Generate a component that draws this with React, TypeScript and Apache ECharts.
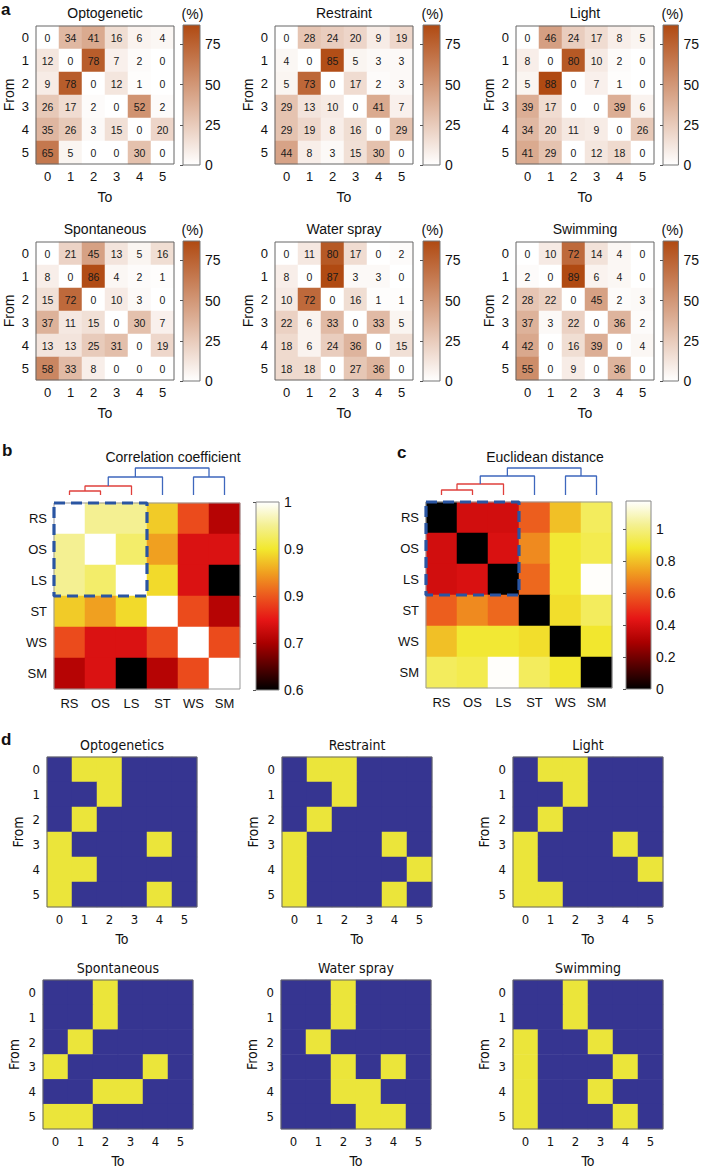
import React, { useEffect, useRef } from "react";
import * as echarts from "echarts";

// ---------------- data ----------------
const steps = ["0", "1", "2", "3", "4", "5"];
const behaviourTitles = ["Optogenetic", "Restraint", "Light", "Spontaneous", "Water spray", "Swimming"];
const binaryTitles = ["Optogenetics", "Restraint", "Light", "Spontaneous", "Water spray", "Swimming"];
const codes = ["RS", "OS", "LS", "ST", "WS", "SM"];

const optogenetic = [
  [0, 34, 41, 16, 6, 4],
  [12, 0, 78, 7, 2, 0],
  [9, 78, 0, 12, 1, 0],
  [26, 17, 2, 0, 52, 2],
  [35, 26, 3, 15, 0, 20],
  [65, 5, 0, 0, 30, 0],
];
const restraint = [
  [0, 28, 24, 20, 9, 19],
  [4, 0, 85, 5, 3, 3],
  [5, 73, 0, 17, 2, 3],
  [29, 13, 10, 0, 41, 7],
  [29, 19, 8, 16, 0, 29],
  [44, 8, 3, 15, 30, 0],
];
const light = [
  [0, 46, 24, 17, 8, 5],
  [8, 0, 80, 10, 2, 0],
  [5, 88, 0, 7, 1, 0],
  [39, 17, 0, 0, 39, 6],
  [34, 20, 11, 9, 0, 26],
  [41, 29, 0, 12, 18, 0],
];
const spontaneous = [
  [0, 21, 45, 13, 5, 16],
  [8, 0, 86, 4, 2, 1],
  [15, 72, 0, 10, 3, 0],
  [37, 11, 15, 0, 30, 7],
  [13, 13, 25, 31, 0, 19],
  [58, 33, 8, 0, 0, 0],
];
const waterSpray = [
  [0, 11, 80, 17, 0, 2],
  [8, 0, 87, 3, 3, 0],
  [10, 72, 0, 16, 1, 1],
  [22, 6, 33, 0, 33, 5],
  [18, 6, 24, 36, 0, 15],
  [18, 18, 0, 27, 36, 0],
];
const swimming = [
  [0, 10, 72, 14, 4, 0],
  [2, 0, 89, 6, 4, 0],
  [28, 22, 0, 45, 2, 3],
  [37, 3, 22, 0, 36, 2],
  [42, 0, 16, 39, 0, 4],
  [55, 0, 9, 0, 36, 0],
];

const correlation = [
  [1, 0.95, 0.95, 0.88, 0.79, 0.71],
  [0.95, 1, 0.93, 0.85, 0.74, 0.74],
  [0.95, 0.93, 1, 0.89, 0.74, 0.6],
  [0.88, 0.85, 0.89, 1, 0.79, 0.71],
  [0.79, 0.74, 0.74, 0.79, 1, 0.79],
  [0.71, 0.74, 0.6, 0.71, 0.79, 1],
];
const euclidean = [
  [0, 0.39, 0.39, 0.6, 0.8, 0.95],
  [0.39, 0, 0.41, 0.69, 0.89, 0.93],
  [0.39, 0.41, 0, 0.62, 0.89, 1.17],
  [0.6, 0.69, 0.62, 0, 0.86, 0.95],
  [0.8, 0.89, 0.89, 0.86, 0, 0.88],
  [0.95, 0.93, 1.17, 0.95, 0.88, 0],
];
// dendrogram merges: [nodeA, nodeB, height]; leaves 0..5, new nodes 6..
const linkageCorr = [[0, 1, 4], [6, 2, 9], [7, 3, 18], [4, 5, 18], [8, 9, 27]];
const linkageDist = [[0, 1, 5], [6, 2, 11], [7, 3, 19], [4, 5, 19], [8, 9, 27]];
const linkColors = ["#e0403c", "#e0403c", "#3e67bd", "#3e67bd", "#3e67bd"];
const clusterSize = 3;

const corrTickLabels = ["0.6", "0.7", "0.9", "0.9", "1"];

const binOpto = [
  [0, 1, 1, 0, 0, 0],
  [0, 0, 1, 0, 0, 0],
  [0, 1, 0, 0, 0, 0],
  [1, 0, 0, 0, 1, 0],
  [1, 1, 0, 0, 0, 0],
  [1, 0, 0, 0, 1, 0],
];
const binRestraint = [
  [0, 1, 1, 0, 0, 0],
  [0, 0, 1, 0, 0, 0],
  [0, 1, 0, 0, 0, 0],
  [1, 0, 0, 0, 1, 0],
  [1, 0, 0, 0, 0, 1],
  [1, 0, 0, 0, 1, 0],
];
const binLight = [
  [0, 1, 1, 0, 0, 0],
  [0, 0, 1, 0, 0, 0],
  [0, 1, 0, 0, 0, 0],
  [1, 0, 0, 0, 1, 0],
  [1, 0, 0, 0, 0, 1],
  [1, 1, 0, 0, 0, 0],
];
const binSpont = [
  [0, 0, 1, 0, 0, 0],
  [0, 0, 1, 0, 0, 0],
  [0, 1, 0, 0, 0, 0],
  [1, 0, 0, 0, 1, 0],
  [0, 0, 1, 1, 0, 0],
  [1, 1, 0, 0, 0, 0],
];
const binWater = [
  [0, 0, 1, 0, 0, 0],
  [0, 0, 1, 0, 0, 0],
  [0, 1, 0, 0, 0, 0],
  [0, 0, 1, 0, 1, 0],
  [0, 0, 1, 1, 0, 0],
  [0, 0, 0, 1, 1, 0],
];
const binSwim = [
  [0, 0, 1, 0, 0, 0],
  [0, 0, 1, 0, 0, 0],
  [1, 0, 0, 1, 0, 0],
  [1, 0, 0, 0, 1, 0],
  [1, 0, 0, 1, 0, 0],
  [1, 0, 0, 0, 1, 0],
];

// ---------------- styling / layout ----------------
const W = 702;
const H = 1169;
const FONT = "'Liberation Sans', Arial, Helvetica, sans-serif";
const NARROW = "'Liberation Sans Narrow', 'DejaVu Sans Condensed', 'Liberation Sans', sans-serif";
const TXT = "#111";
const PCT_MAX = 87;
const DIST_MAX = 1.175;
const ORANGE_TOP = "#b04a12";
const HOT = ["#000000", "#550000", "#aa0000", "#e61616", "#ec581e", "#f0a020", "#f2e82e", "#f4f092", "#ffffff"];
const BLUE = "#363591";
const YELLOW = "#ebe53a";

const A_LEFT = [36, 275, 516];
const A_CB_LEFT = [183, 423, 663];
const A_TOP = [26, 242];
const A_SIZE = 138;
const A_CB_W = 17;

const B = { left: 54, top: 503, size: 186, cbLeft: 256, cbW: 23 };
const C = { left: 426, top: 502, size: 186, cbLeft: 626, cbW: 25 };
const DENDRO_TOP = 468;
const DENDRO_H = 27;

const D_LEFT = [[47, 282, 513], [43, 281, 513]];
const D_TOP = [757, 980];
const D_W = 150;
const D_H = 150;

function toCells(m: number[][]) {
  const out: number[][] = [];
  m.forEach((row, r) => row.forEach((v, c) => out.push([c, r, v])));
  return out;
}

function txt(text: string, x: number, y: number, font: string, align = "center") {
  return {
    type: "text",
    x,
    y,
    silent: true,
    style: {
      text,
      font,
      fill: TXT,
      textAlign: align,
      textVerticalAlign: "middle",
      align,
      verticalAlign: "middle",
    },
  };
}

function buildOption() {
  const grids: any[] = [];
  const xAxes: any[] = [];
  const yAxes: any[] = [];
  const series: any[] = [];
  const graphics: any[] = [];

  const addGrid = (g: any, xa: any, ya: any) => {
    const i = grids.length;
    grids.push(g);
    xAxes.push({ ...xa, gridIndex: i });
    yAxes.push({ ...ya, gridIndex: i });
    return i;
  };

  const catAxis = (data: string[], extra: any, fontFamily: string, fontSize: number) => ({
    type: "category",
    data,
    axisLine: { show: false },
    axisTick: { show: true, inside: true, alignWithLabel: true, length: 3, lineStyle: { color: "#555" } },
    axisLabel: { fontSize, color: TXT, fontFamily },
    splitLine: { show: false },
    splitArea: { show: false },
    nameTextStyle: { fontSize: 14, color: TXT, fontFamily },
    ...extra,
  });

  const hiddenVal = (min: number, max: number, inverse = false) => ({
    type: "value",
    show: false,
    min,
    max,
    inverse,
    splitLine: { show: false },
  });

  const cbAxis = (min: number, max: number, interval: number, formatter: any, showMax: boolean) => ({
    type: "value",
    position: "right",
    min,
    max,
    interval,
    axisLine: { show: false },
    axisTick: { show: true, inside: true, length: 3, lineStyle: { color: "#555" } },
    axisLabel: { fontSize: 14, color: TXT, margin: 5, showMaxLabel: showMax, formatter, fontFamily: FONT },
    splitLine: { show: false },
  });

  // ----- panel a -----
  const aMatrices = [optogenetic, restraint, light, spontaneous, waterSpray, swimming];
  const aIdx: number[] = [];
  const aGrad = new echarts.graphic.LinearGradient(0, 0, 0, 1, [
    { offset: 0, color: ORANGE_TOP },
    { offset: 1, color: "#ffffff" },
  ]);
  aMatrices.forEach((m, k) => {
    const col = k % 3;
    const row = Math.floor(k / 3);
    const left = A_LEFT[col];
    const top = A_TOP[row];
    const gi = addGrid(
      { left, top, width: A_SIZE, height: A_SIZE, show: true, borderColor: "#666", borderWidth: 1, backgroundColor: "transparent", z: 10 },
      catAxis(steps, { name: "To", nameLocation: "middle", nameGap: 26, axisLabel: { fontSize: 13, color: TXT, margin: 6, fontFamily: FONT } }, FONT, 13),
      catAxis(steps, { inverse: true, name: "From", nameLocation: "middle", nameRotate: 90, nameGap: 20, axisLabel: { fontSize: 13, color: TXT, margin: 7, fontFamily: FONT } }, FONT, 13)
    );
    aIdx.push(series.length);
    series.push({
      type: "heatmap",
      xAxisIndex: gi,
      yAxisIndex: gi,
      data: toCells(m),
      label: { show: true, fontSize: 10.5, color: "#1a1a1a", fontFamily: FONT, formatter: (p: any) => String(p.value[2]) },
      emphasis: { disabled: true },
      silent: true,
    });
    addGrid(
      { left: A_CB_LEFT[col], top: top - 1, width: A_CB_W, height: A_SIZE + 2, show: true, borderColor: "#777", borderWidth: 1, backgroundColor: aGrad },
      hiddenVal(0, 1),
      cbAxis(0, PCT_MAX, 25, (v: number) => String(v), false)
    );
    graphics.push(txt(behaviourTitles[k], left + A_SIZE / 2, top - 13, `14px ${FONT}`));
    graphics.push(txt("(%)", A_CB_LEFT[col] + A_CB_W / 2 + 1, top - 12, `14px ${FONT}`));
  });

  // ----- panels b, c -----
  const hotGrad = new echarts.graphic.LinearGradient(
    0,
    0,
    0,
    1,
    HOT.slice().reverse().map((c, i) => ({ offset: i / (HOT.length - 1), color: c }))
  );
  const bcIdx: number[] = [];
  const panels = [
    { P: B, m: correlation, link: linkageCorr, min: 0.6, max: 1, interval: 0.1, showMax: true, fmt: (v: number) => corrTickLabels[Math.round((v - 0.6) / 0.1)] ?? "", title: "Correlation coefficient" },
    { P: C, m: euclidean, link: linkageDist, min: 0, max: DIST_MAX, interval: 0.2, showMax: false, fmt: (v: number) => String(Number(v.toFixed(1))), title: "Euclidean distance" },
  ];
  panels.forEach(({ P, m, link, min, max, interval, fmt, title, showMax }) => {
    const gi = addGrid(
      { left: P.left, top: P.top, width: P.size, height: P.size, show: true, borderColor: "#999", borderWidth: 1, backgroundColor: "transparent", z: 10 },
      catAxis(codes, { axisLabel: { fontSize: 13, color: TXT, margin: 8, fontFamily: FONT } }, FONT, 13),
      catAxis(codes, { inverse: true, axisLabel: { fontSize: 13, color: TXT, margin: 7, fontFamily: FONT } }, FONT, 13)
    );
    bcIdx.push(series.length);
    series.push({ type: "heatmap", xAxisIndex: gi, yAxisIndex: gi, data: toCells(m), emphasis: { disabled: true }, silent: true });

    // colorbar
    addGrid(
      { left: P.cbLeft, top: P.top - 1, width: P.cbW, height: P.size + 2, show: true, borderColor: "#888", borderWidth: 1, backgroundColor: hotGrad },
      hiddenVal(0, 1),
      cbAxis(min, max, interval, fmt, showMax)
    );

    // dendrogram
    const dg = addGrid(
      { left: P.left, top: DENDRO_TOP, width: P.size, height: DENDRO_H, show: false },
      hiddenVal(0, codes.length),
      hiddenVal(0, DENDRO_H)
    );
    const xs = codes.map((_, i) => i + 0.5);
    const ys = codes.map(() => 0);
    link.forEach(([a, b, h], k) => {
      series.push({
        type: "line",
        xAxisIndex: dg,
        yAxisIndex: dg,
        data: [[xs[a], ys[a]], [xs[a], h], [xs[b], h], [xs[b], ys[b]]],
        symbol: "none",
        clip: false,
        silent: true,
        lineStyle: { color: linkColors[k], width: 1.3 },
      });
      xs.push((xs[a] + xs[b]) / 2);
      ys.push(h);
    });

    // dashed cluster box overlay
    const og = addGrid(
      { left: P.left, top: P.top, width: P.size, height: P.size, show: false },
      hiddenVal(0, codes.length),
      hiddenVal(0, codes.length, true)
    );
    series.push({
      type: "line",
      xAxisIndex: og,
      yAxisIndex: og,
      data: [[0, 0], [clusterSize, 0], [clusterSize, clusterSize], [0, clusterSize], [0, 0]],
      symbol: "none",
      clip: false,
      silent: true,
      z: 20,
      lineStyle: { color: "#2a55a2", width: 3.2, type: [11, 6] },
    });

    graphics.push(txt(title, P.left + 119, 457, `14px ${FONT}`));
  });

  // ----- panel d -----
  const dMatrices = [binOpto, binRestraint, binLight, binSpont, binWater, binSwim];
  const dIdx: number[] = [];
  dMatrices.forEach((m, k) => {
    const col = k % 3;
    const row = Math.floor(k / 3);
    const left = D_LEFT[row][col];
    const top = D_TOP[row];
    const gi = addGrid(
      { left, top, width: D_W, height: D_H, show: true, borderColor: "#666", borderWidth: 1, backgroundColor: "transparent", z: 10 },
      catAxis(steps, { name: "To", nameLocation: "middle", nameGap: 25, axisLabel: { fontSize: 13, color: TXT, margin: 6, fontFamily: NARROW } }, NARROW, 13),
      catAxis(steps, { inverse: true, name: "From", nameLocation: "middle", nameRotate: 90, nameGap: 22, axisLabel: { fontSize: 13, color: TXT, margin: 7, fontFamily: NARROW } }, NARROW, 13)
    );
    dIdx.push(series.length);
    series.push({ type: "heatmap", xAxisIndex: gi, yAxisIndex: gi, data: toCells(m), emphasis: { disabled: true }, silent: true });
    graphics.push(txt(binaryTitles[k], left + D_W / 2, top - 12, `14px ${NARROW}`));
  });

  // panel letters
  graphics.push(txt("a", 1, 9, `bold 17px ${FONT}`, "left"));
  graphics.push(txt("b", 2, 450, `bold 17px ${FONT}`, "left"));
  graphics.push(txt("c", 397, 452, `bold 17px ${FONT}`, "left"));
  graphics.push(txt("d", 1, 739, `bold 17px ${FONT}`, "left"));

  return {
    animation: false,
    backgroundColor: "#ffffff",
    textStyle: { fontFamily: FONT },
    grid: grids,
    xAxis: xAxes,
    yAxis: yAxes,
    series,
    visualMap: [
      { type: "continuous", show: false, seriesIndex: aIdx, dimension: 2, min: 0, max: PCT_MAX, inRange: { color: ["#ffffff", ORANGE_TOP] }, outOfRange: { color: ORANGE_TOP } },
      { type: "continuous", show: false, seriesIndex: [bcIdx[0]], dimension: 2, min: 0.6, max: 1, inRange: { color: HOT } },
      { type: "continuous", show: false, seriesIndex: [bcIdx[1]], dimension: 2, min: 0, max: DIST_MAX, inRange: { color: HOT } },
      { type: "piecewise", show: false, seriesIndex: dIdx, dimension: 2, pieces: [{ value: 0, color: BLUE }, { value: 1, color: YELLOW }] },
    ],
    graphic: graphics,
  };
}

export default function App() {
  const ref = useRef<HTMLDivElement>(null);
  useEffect(() => {
    if (!ref.current) return;
    const chart = echarts.init(ref.current, null, { renderer: "svg", width: W, height: H });
    chart.setOption(buildOption() as any);
    return () => chart.dispose();
  }, []);
  return <div ref={ref} style={{ position: "fixed", left: 0, top: 0, width: W, height: H, background: "#fff" }} />;
}
